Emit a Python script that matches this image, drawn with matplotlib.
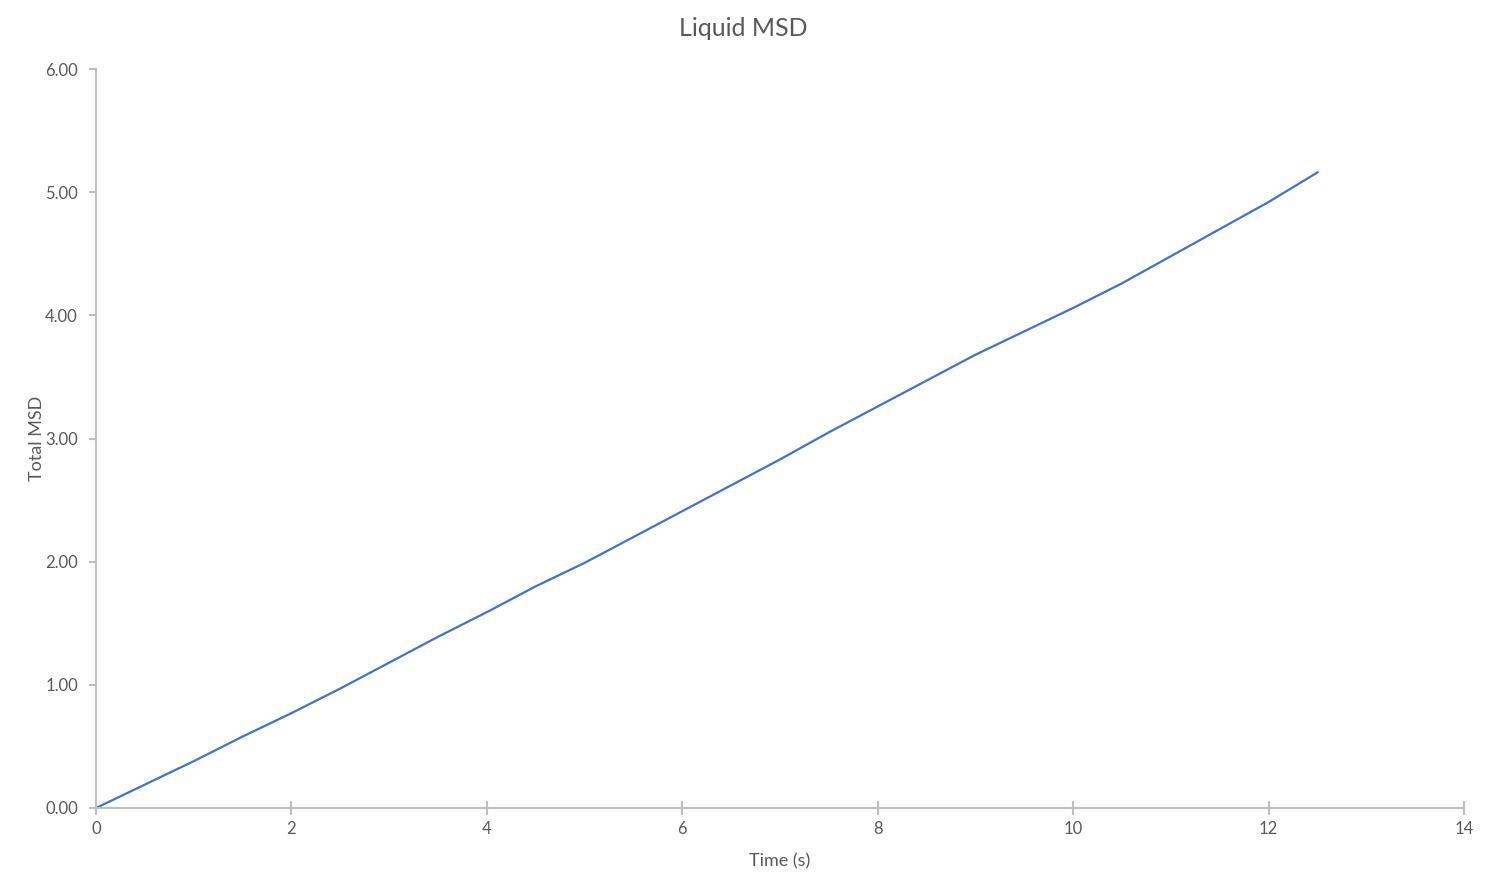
import numpy as np
import matplotlib.pyplot as plt

plt.rcParams['font.family'] = ['Lato', 'DejaVu Sans']

# values
time_s = [0.0, 0.5, 1.0, 1.5, 2.0, 2.5, 3.0, 3.5, 4.0, 4.5, 5.0, 5.5, 6.0,
          6.5, 7.0, 7.5, 8.0, 8.5, 9.0, 9.5, 10.0, 10.5, 11.0, 11.5, 12.0, 12.5]
total_msd = [0.0, 0.19, 0.38, 0.58, 0.77, 0.97, 1.18, 1.39, 1.59, 1.80, 1.99,
             2.20, 2.41, 2.62, 2.83, 3.05, 3.26, 3.47, 3.68, 3.87, 4.06, 4.26,
             4.48, 4.70, 4.92, 5.16]
x_ticks = [0, 2, 4, 6, 8, 10, 12, 14]
y_ticks = [0, 1, 2, 3, 4, 5, 6]

grey = '#bfbfbf'
txt = '#595959'

fig = plt.figure(figsize=(14.9, 8.92), dpi=100)
ax = fig.add_axes([96 / 1490, 1 - 808 / 892, (1464 - 96) / 1490, (808 - 69) / 892])

ax.plot(time_s, total_msd, color='#4472c4', lw=1.6)

ax.set_xlim(0, 14)
ax.set_ylim(0, 6)
ax.set_xticks(x_ticks)
ax.set_yticks(y_ticks)
ax.set_yticklabels([f'{v:.2f}' for v in y_ticks])

for s in ['top', 'right']:
    ax.spines[s].set_visible(False)
for s in ['left', 'bottom']:
    ax.spines[s].set_color(grey)
    ax.spines[s].set_linewidth(1.5)

ax.tick_params(axis='x', direction='inout', length=10, width=1.5, color=grey,
               labelcolor=txt, labelsize=12, pad=4)
ax.tick_params(axis='y', direction='out', length=5, width=1.5, color=grey,
               labelcolor=txt, labelsize=12, pad=8)

ax.set_xlabel('Time (s)', fontsize=13, color=txt, labelpad=12)
ax.set_ylabel('Total MSD', fontsize=13, color=txt, labelpad=0)
fig.text(743 / 1490, 1 - 28 / 892, 'Liquid MSD', fontsize=18, color=txt,
         ha='center', va='center')

fig.savefig('out.png', dpi=100)
